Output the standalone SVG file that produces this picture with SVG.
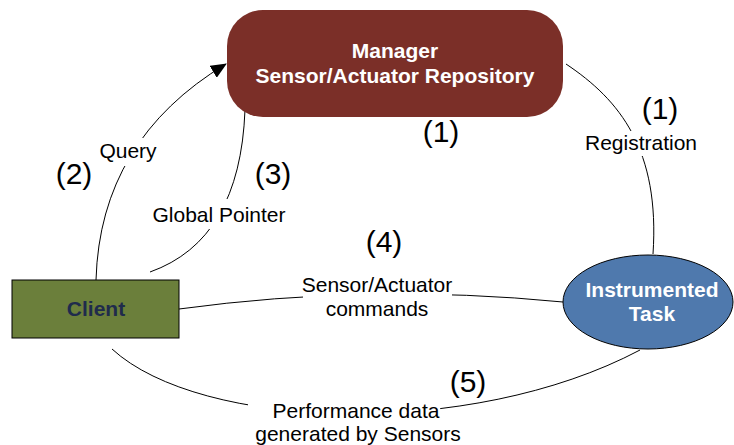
<svg xmlns="http://www.w3.org/2000/svg" width="734" height="445" viewBox="0 0 734 445">
<style>
.lbl{font-family:"Liberation Sans",Arial,sans-serif;font-size:21px;fill:#000;text-anchor:middle}
.num{font-family:"Liberation Sans",Arial,sans-serif;font-size:30px;fill:#000;text-anchor:middle}
.bold{font-family:"Liberation Sans",Arial,sans-serif;font-size:21px;font-weight:bold;text-anchor:middle}
.conn{fill:none;stroke:#000;stroke-width:1}
.gap{fill:#fff}
</style>
<defs>
<marker id="arrow" markerWidth="16" markerHeight="14" refX="15" refY="7" orient="auto" markerUnits="userSpaceOnUse">
<path d="M0,0 L16,7 L0,14 Z" fill="#000"/>
</marker>
</defs>
<rect width="734" height="445" fill="#fff"/>
<g id="connectors">
<path class="conn" d="M96,280 Q100,140 226,64" marker-end="url(#arrow)"/>
<path class="conn" d="M150,272 Q240,240 245,110"/>
<path class="conn" d="M566,64 C620,100 660,150 653,254"/>
<path class="conn" d="M179,309 Q370,283 563,302"/>
<path class="conn" d="M112,349 C200,430 470,440 640,350"/>
<rect class="gap" x="98" y="138" width="62" height="28"/>
<rect class="gap" x="150" y="199" width="140" height="30"/>
<rect class="gap" x="583" y="131" width="117" height="25"/>
<rect class="gap" x="303" y="272" width="149" height="50"/>
<rect class="gap" x="248" y="398" width="192" height="47"/>
<text class="lbl" x="128" y="158">Query</text>
<text class="lbl" x="219" y="222">Global Pointer</text>
<text class="lbl" x="641" y="150">Registration</text>
<text class="lbl" x="377" y="292">Sensor/Actuator</text>
<text class="lbl" x="377" y="316">commands</text>
<text class="lbl" x="356" y="418">Performance data</text>
<text class="lbl" x="358" y="441">generated by Sensors</text>
<text class="num" x="441" y="142">(1)</text>
<text class="num" x="660" y="119">(1)</text>
<text class="num" x="74" y="184">(2)</text>
<text class="num" x="273" y="184">(3)</text>
<text class="num" x="384" y="252">(4)</text>
<text class="num" x="468" y="392">(5)</text>
</g>
<g id="manager">
<rect x="227" y="10" width="336" height="107" rx="36" ry="36" fill="#7B2F28"/>
<text class="bold" x="395" y="58" fill="#fff">Manager</text>
<text class="bold" x="395" y="83" fill="#fff">Sensor/Actuator Repository</text>
</g>
<g id="client">
<rect x="12" y="280" width="167" height="58" fill="#6B7F3B" stroke="#000" stroke-width="1"/>
<text class="bold" x="96" y="316" fill="#1F2B4C">Client</text>
</g>
<g id="task">
<ellipse cx="648" cy="302" rx="85" ry="47" fill="#4F79AD" stroke="#000" stroke-width="1"/>
<text class="bold" x="652" y="297" fill="#fff">Instrumented</text>
<text class="bold" x="652" y="321" fill="#fff">Task</text>
</g>
</svg>
